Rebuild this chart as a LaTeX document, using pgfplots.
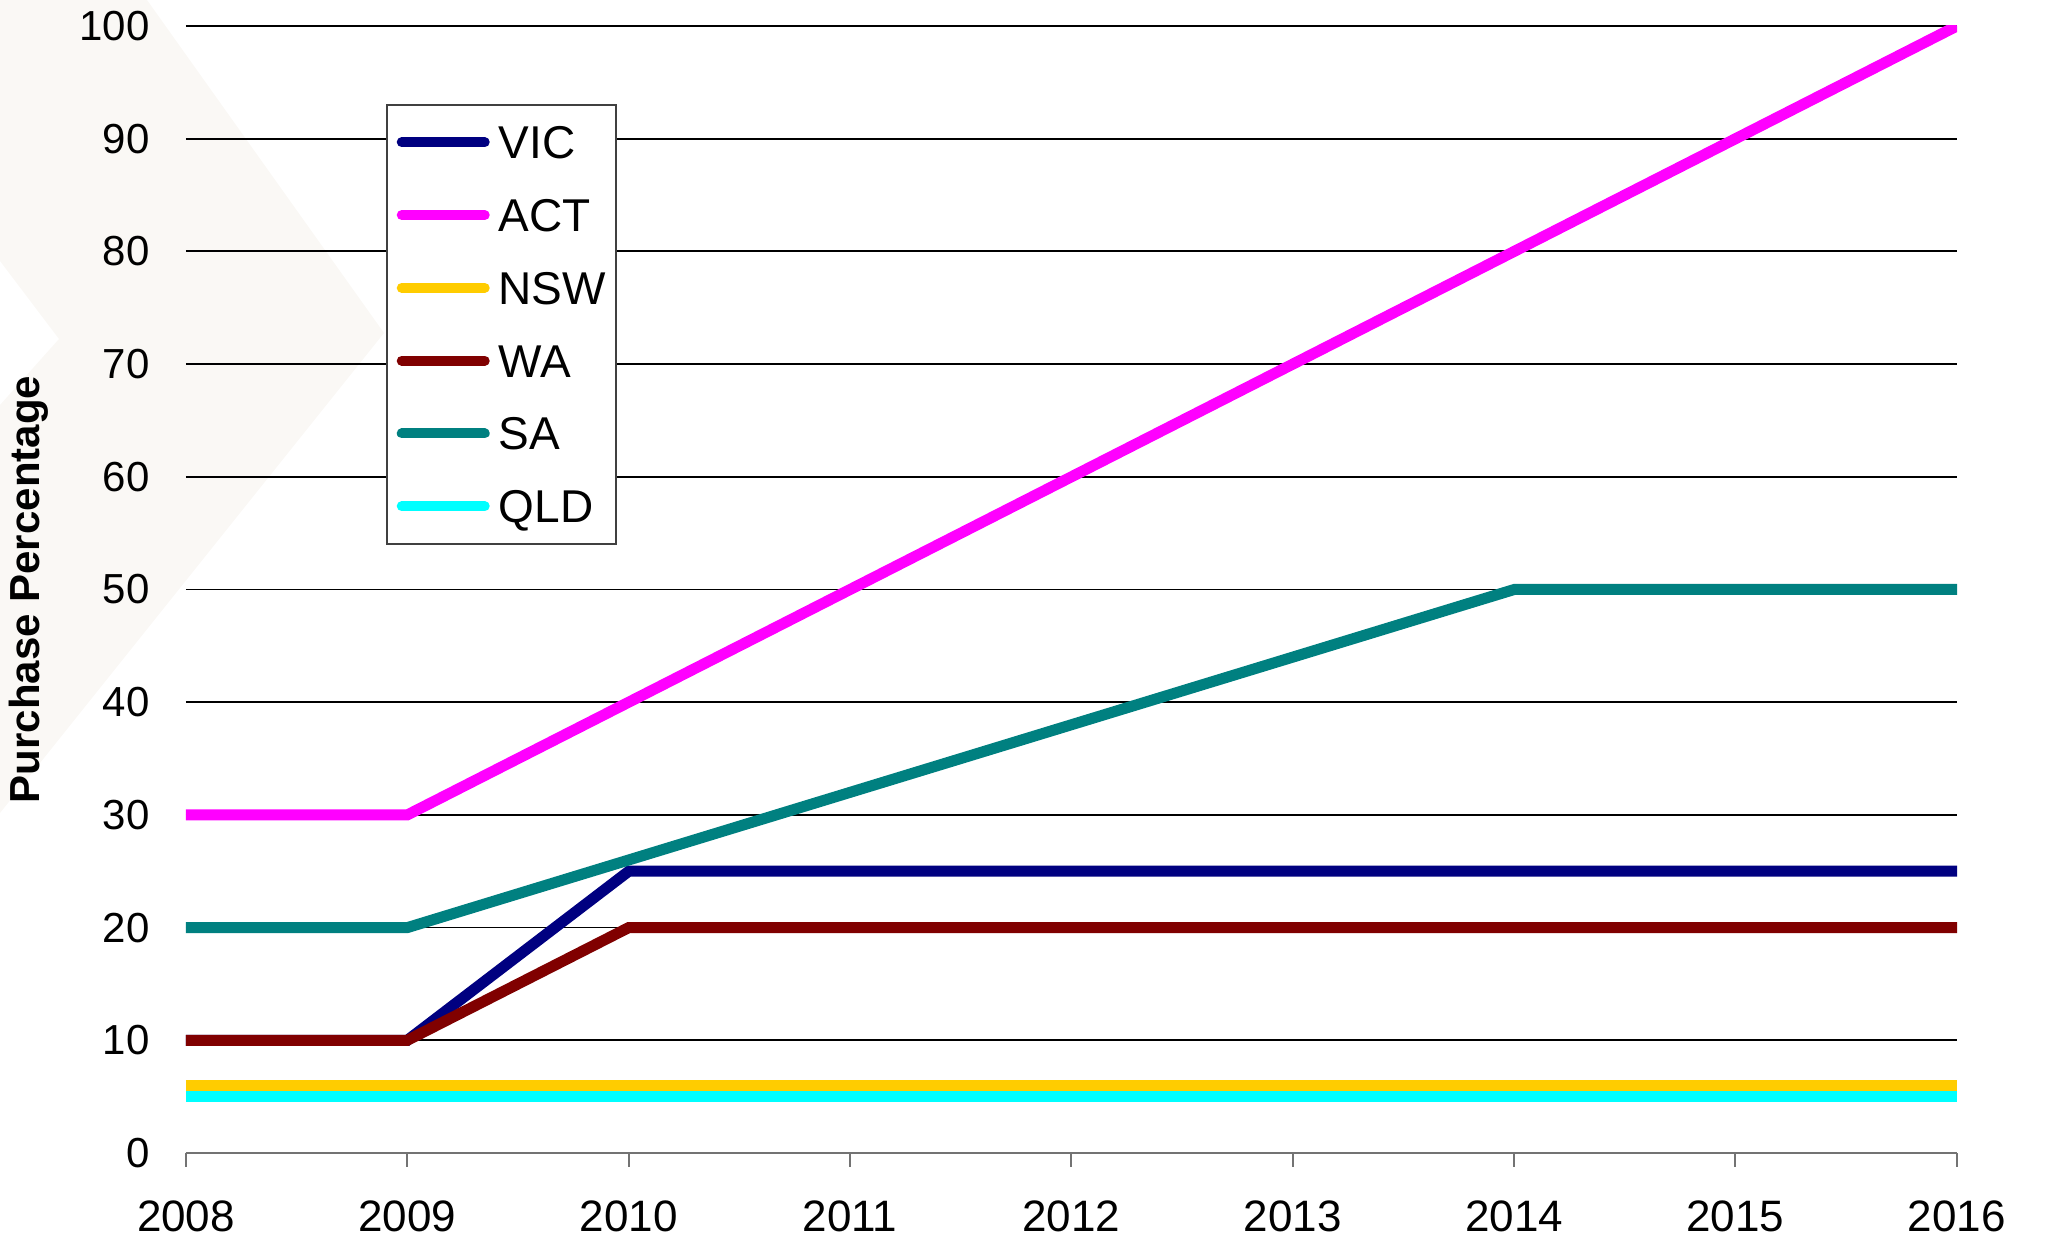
\documentclass[border=0pt]{standalone}
\usepackage{pgfplots}
\pgfplotsset{compat=1.18}
\usepackage{fontspec}
\setmainfont{Liberation Sans}
\definecolor{cVIC}{HTML}{000080}
\definecolor{cACT}{HTML}{FF00FF}
\definecolor{cNSW}{HTML}{FFCC00}
\definecolor{cWA}{HTML}{800000}
\definecolor{cSA}{HTML}{008080}
\definecolor{cQLD}{HTML}{00FFFF}
\definecolor{wm}{HTML}{FAF8F5}
\begin{document}
\begin{tikzpicture}
\path[use as bounding box] (-93pt,-43.5pt) rectangle (930pt,576.5pt);
\clip (-93pt,-43.5pt) rectangle (930pt,576.5pt);
\fill[wm] (-93pt,576.5pt) -- (-19.5pt,576.5pt) -- (99pt,410pt) -- (-93pt,170pt) -- (-93pt,374pt) -- (-63.5pt,407pt) -- (-93pt,446pt) -- cycle;
\begin{axis}[
  at={(0pt,0pt)}, anchor=south west,
  scale only axis, width=885.5pt, height=563.5pt,
  xmin=2008, xmax=2016, ymin=0, ymax=100,
  enlargelimits=false,
  xtick={2008,2009,...,2016}, ytick={0,10,...,100},
  axis x line*=bottom, axis y line*=left,
  axis line style={-},
  x axis line style={draw=black!55, line width=1pt},
  y axis line style={draw=none},
  ytick style={draw=none},
  xtick style={draw=black!55, line width=1pt},
  tick align=outside, major tick length=7pt,
  ymajorgrids, major grid style={black, line width=0.9pt},
  /pgf/number format/assume math mode=true,
  xticklabel style={/pgf/number format/1000 sep={}, inner sep=0pt, font=\fontsize{22}{22}\selectfont},
  yticklabel style={inner sep=0pt, font=\fontsize{21}{21}\selectfont},
  xticklabel shift=16.5pt, yticklabel shift=11pt,
  every axis y label/.style={at={(axis description cs:-0.0886,0.5)}, rotate=90, anchor=center, font=\fontsize{21}{21}\selectfont\bfseries},
  ylabel={Purchase Percentage},
  every axis plot/.append style={line width=5.5pt},
  legend image code/.code={\draw[line width=5pt, line cap=round] (2.5pt,0pt) -- (44pt,0pt);},
  legend cell align=left,
  legend style={at={(0.1129,0.9308)}, anchor=north west, draw=black!75, line width=0.8pt,
    inner xsep=5pt, inner ysep=10.5pt, row sep=19.9pt, column sep=4.5pt,
    font=\fontsize{23}{23}\selectfont,
    nodes={inner sep=0pt, text height=16.5pt, text depth=0pt}},
]
\addplot[cVIC] coordinates {(2008,10) (2009,10) (2010,25) (2011,25) (2012,25) (2013,25) (2014,25) (2015,25) (2016,25)};
\addlegendentry{VIC}
\addplot[cACT] coordinates {(2008,30) (2009,30) (2010,40) (2011,50) (2012,60) (2013,70) (2014,80) (2015,90) (2016,100)};
\addlegendentry{ACT}
\addplot[cNSW] coordinates {(2008,6) (2009,6) (2010,6) (2011,6) (2012,6) (2013,6) (2014,6) (2015,6) (2016,6)};
\addlegendentry{NSW}
\addplot[cWA] coordinates {(2008,10) (2009,10) (2010,20) (2011,20) (2012,20) (2013,20) (2014,20) (2015,20) (2016,20)};
\addlegendentry{WA}
\addplot[cSA] coordinates {(2008,20) (2009,20) (2010,26) (2011,32) (2012,38) (2013,44) (2014,50) (2015,50) (2016,50)};
\addlegendentry{SA}
\addplot[cQLD] coordinates {(2008,5) (2009,5) (2010,5) (2011,5) (2012,5) (2013,5) (2014,5) (2015,5) (2016,5)};
\addlegendentry{QLD}
\end{axis}
\end{tikzpicture}
\end{document}
